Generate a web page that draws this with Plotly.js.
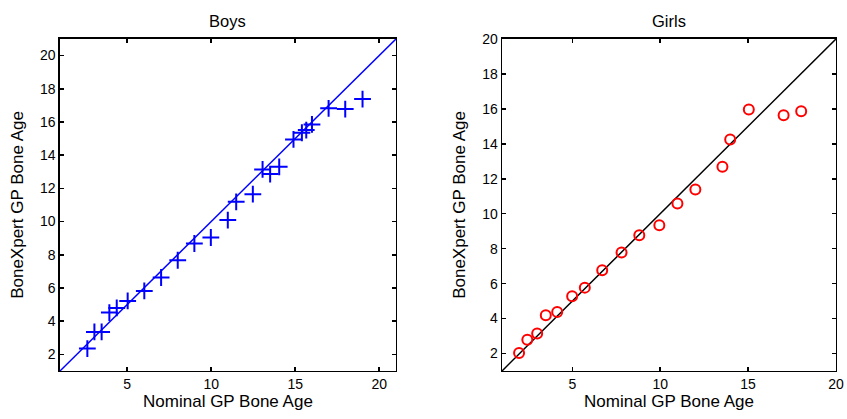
<!DOCTYPE html>
<html>
<head>
<meta charset="utf-8">
<script src="https://cdn.plot.ly/plotly-3.0.1.min.js"></script>
<style>html,body{margin:0;padding:0;background:#fff;}#chart{width:847px;height:419px;}</style>
</head>
<body>
<div id="chart"></div>
<script>
// Boys data
const boysNominal = [2.63, 3.05, 3.48, 3.94, 4.38, 5.03, 6.02, 7.02, 8.01, 9.0, 9.98, 10.99, 11.49, 12.48, 13.06, 13.51, 14.05, 14.9, 15.4, 15.66, 16.0, 16.99, 17.98, 19.01];
const boysBoneXpert = [2.35, 3.35, 3.35, 4.52, 4.8, 5.22, 5.82, 6.63, 7.67, 8.68, 9.04, 10.09, 11.19, 11.65, 13.14, 12.86, 13.3, 14.95, 15.35, 15.51, 15.85, 16.82, 16.78, 17.38];
// Girls data
const girlsNominal = [1.97, 2.44, 3.0, 3.49, 4.14, 4.99, 5.71, 6.7, 7.8, 8.81, 9.95, 10.98, 12.0, 13.54, 13.98, 15.04, 17.02, 18.02];
const girlsBoneXpert = [2.03, 2.79, 3.14, 4.19, 4.38, 5.28, 5.77, 6.77, 7.78, 8.77, 9.34, 10.59, 11.39, 12.69, 14.25, 15.97, 15.63, 15.86];
// identity lines
const boysLine = [1, 21];
const girlsLine = [1, 20];
const boysYTicks = [2, 4, 6, 8, 10, 12, 14, 16, 18, 20];
const girlsYTicks = [2, 4, 6, 8, 10, 12, 14, 16, 18, 20];
const xTicks = [5, 10, 15, 20];

const fam = 'Liberation Sans, Arial, sans-serif';
const tickFont = {family: fam, size: 14, color: '#000'};
const axTitleFont = {family: fam, size: 17, color: '#000'};
const titleFont = {family: fam, size: 16.5, color: '#000'};

const traces = [
  {x: boysLine, y: boysLine, mode: 'lines', line: {color: '#0000ff', width: 1.5}, xaxis: 'x', yaxis: 'y', hoverinfo: 'skip'},
  {x: boysNominal, y: boysBoneXpert, mode: 'markers', xaxis: 'x', yaxis: 'y',
   marker: {symbol: 'cross-thin-open', size: 12, color: '#0000ff', line: {color: '#0000ff', width: 2}}},
  {x: girlsLine, y: girlsLine, mode: 'lines', line: {color: '#000000', width: 1.5}, xaxis: 'x2', yaxis: 'y2', hoverinfo: 'skip'},
  {x: girlsNominal, y: girlsBoneXpert, mode: 'markers', xaxis: 'x2', yaxis: 'y2',
   marker: {symbol: 'circle-open', size: 10, color: '#ff0000', line: {color: '#ff0000', width: 2}}}
];

function ax(extra) {
  return Object.assign({
    showgrid: false, zeroline: false, showline: true, mirror: 'ticks',
    linecolor: '#000', linewidth: 1.5, ticks: 'inside', ticklen: 4, tickwidth: 1.5, tickcolor: '#000',
    tickfont: tickFont
  }, extra);
}

const layout = {
  width: 847, height: 419,
  margin: {l: 0, r: 0, t: 0, b: 0},
  paper_bgcolor: '#fff', plot_bgcolor: '#fff',
  showlegend: false,
  font: tickFont,
  xaxis: ax({domain: [0.0708, 0.4675], range: [1, 21], tickvals: xTicks, anchor: 'y',
    title: {text: 'Nominal GP Bone Age', font: axTitleFont, standoff: 2}}),
  yaxis: ax({domain: [0.1146, 0.907], range: [1, 21], tickvals: boysYTicks, anchor: 'x',
    title: {text: 'BoneXpert GP Bone Age', font: axTitleFont, standoff: 12}}),
  xaxis2: ax({domain: [0.5927, 0.987], range: [1, 20], tickvals: xTicks, anchor: 'y2',
    title: {text: 'Nominal GP Bone Age', font: axTitleFont, standoff: 2}}),
  yaxis2: ax({domain: [0.1146, 0.907], range: [1, 20], tickvals: girlsYTicks, anchor: 'x2',
    title: {text: 'BoneXpert GP Bone Age', font: axTitleFont, standoff: 12}}),
  annotations: [
    {text: 'Boys', xref: 'x domain', yref: 'y domain', x: 0.5, y: 1, yshift: 7, xanchor: 'center', yanchor: 'bottom', showarrow: false, font: titleFont},
    {text: 'Girls', xref: 'x2 domain', yref: 'y2 domain', x: 0.5, y: 1, yshift: 7, xanchor: 'center', yanchor: 'bottom', showarrow: false, font: titleFont}
  ]
};

Plotly.newPlot('chart', traces, layout, {staticPlot: true, displayModeBar: false});
</script>
</body>
</html>
